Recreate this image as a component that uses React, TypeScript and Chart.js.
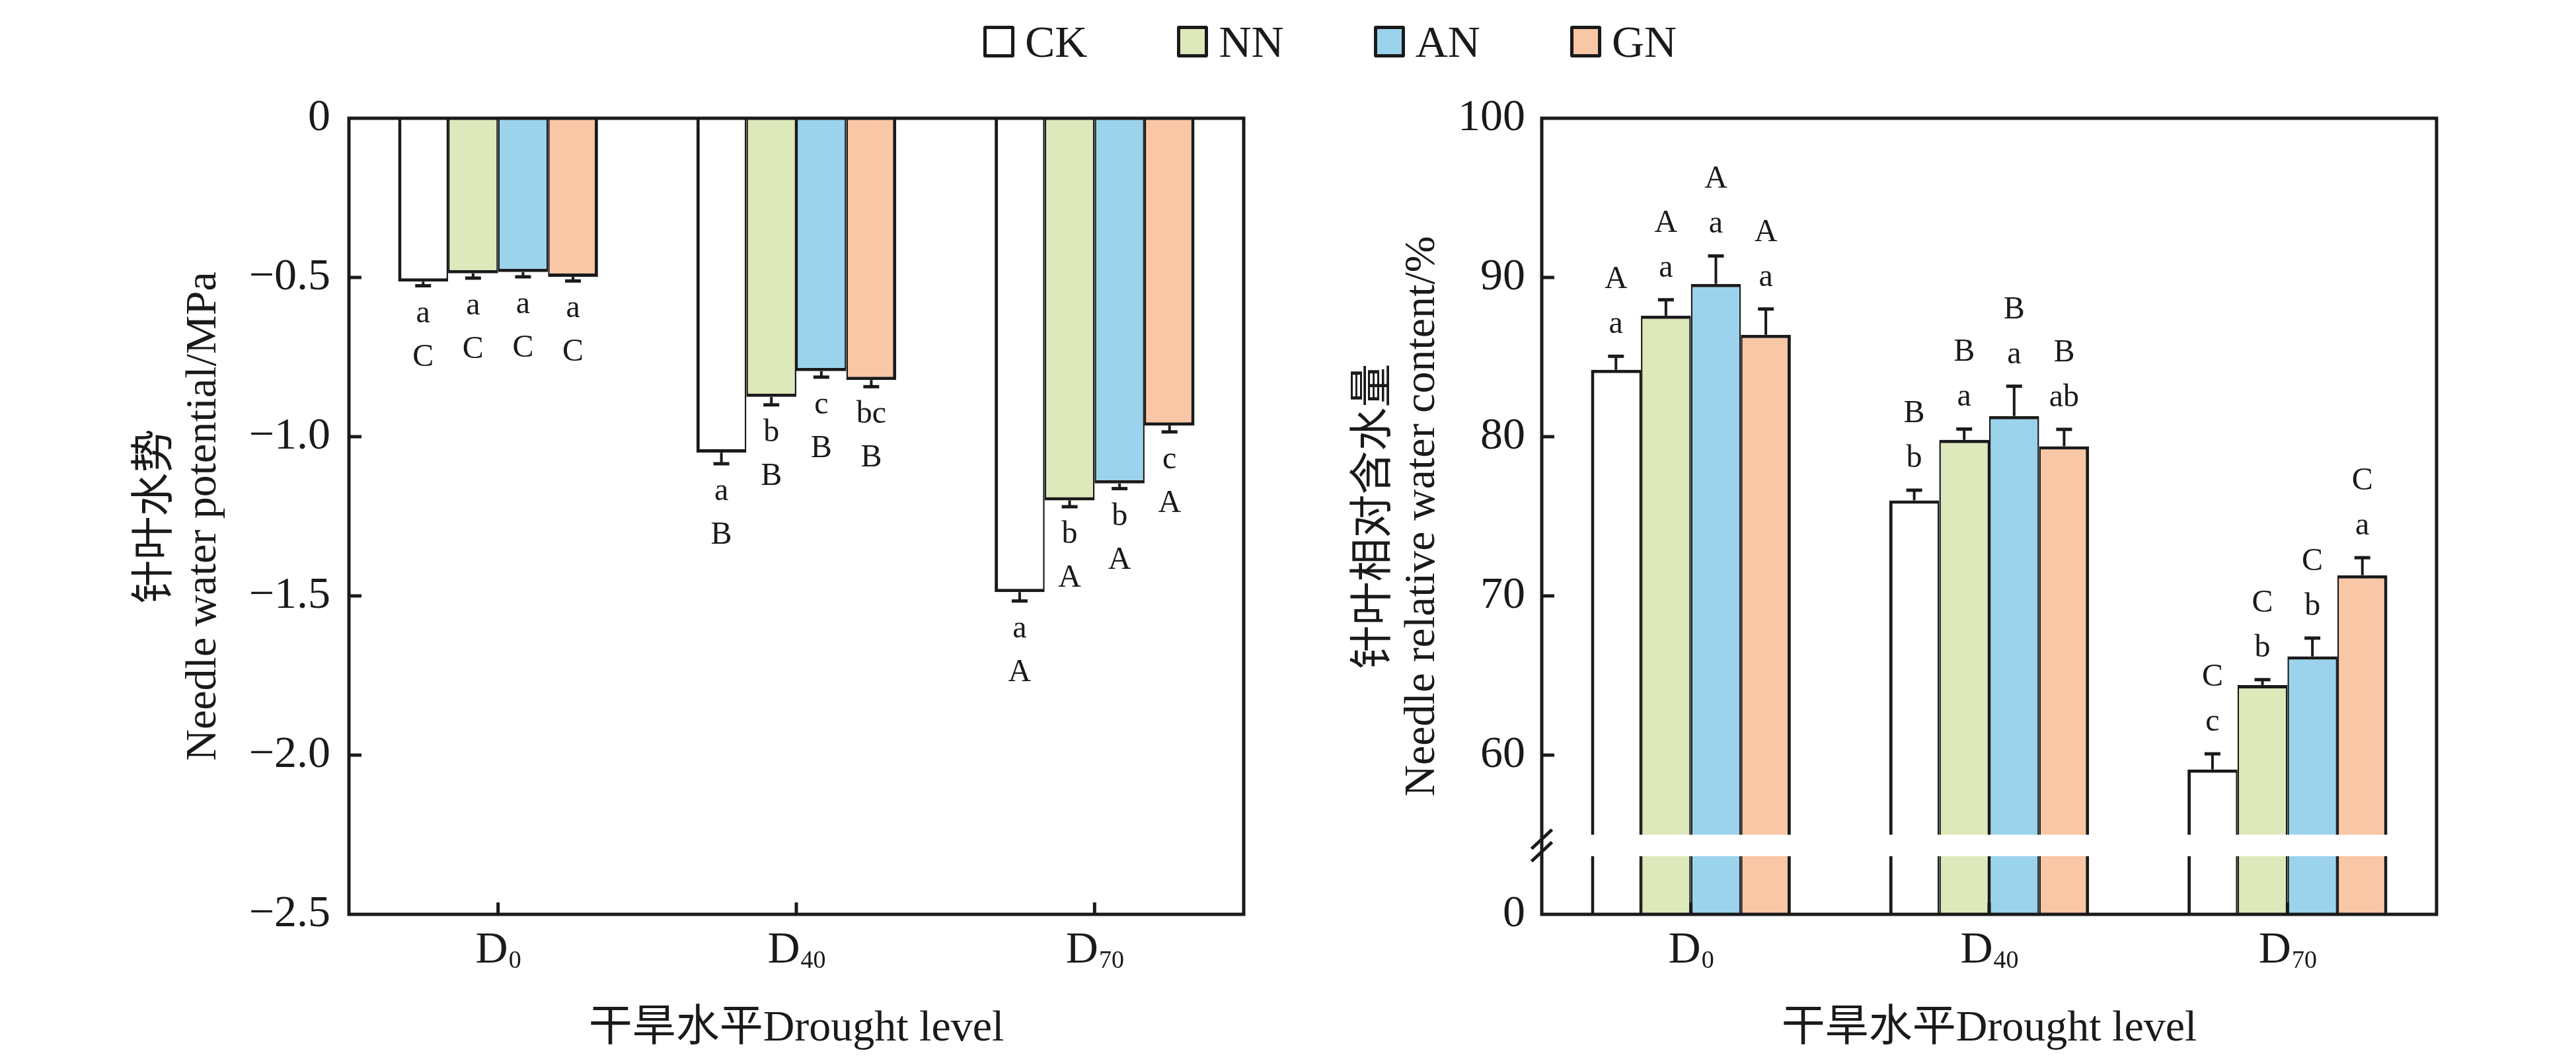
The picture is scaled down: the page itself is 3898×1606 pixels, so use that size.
import React, { useEffect, useRef } from "react";
import { Chart, registerables } from "chart.js";

Chart.register(...registerables);

const FONT = "'Liberation Serif', 'Noto Sans CJK SC', serif";
const INK = "#1a1a1a";

// ---------- data ----------
const categories = ["D0", "D40", "D70"];
const categoryMain = ["D", "D", "D"];
const categorySub = ["0", "40", "70"];
const seriesNames = ["CK", "NN", "AN", "GN"];
const seriesColors = ["#ffffff", "#dde9ba", "#9bd3ec", "#f9c6a6"];

// Needle water potential (MPa)
const potentialCK = [-0.513, -1.05, -1.488];
const potentialNN = [-0.487, -0.875, -1.2];
const potentialAN = [-0.483, -0.794, -1.147];
const potentialGN = [-0.498, -0.822, -0.965];
const potentialErrCK = [0.013, 0.035, 0.028];
const potentialErrNN = [0.015, 0.025, 0.02];
const potentialErrAN = [0.015, 0.019, 0.016];
const potentialErrGN = [0.013, 0.021, 0.02];
const potentialLowerCK = ["a", "a", "a"];
const potentialLowerNN = ["a", "b", "b"];
const potentialLowerAN = ["a", "c", "b"];
const potentialLowerGN = ["a", "bc", "c"];
const potentialUpperCK = ["C", "B", "A"];
const potentialUpperNN = ["C", "B", "A"];
const potentialUpperAN = ["C", "B", "A"];
const potentialUpperGN = ["C", "B", "A"];
const potentialTicks = [0, -0.5, -1, -1.5, -2, -2.5];
const potentialTickLabels = ["0", "\u22120.5", "\u22121.0", "\u22121.5", "\u22122.0", "\u22122.5"];

// Needle relative water content (%)
const contentCK = [84.2, 76.0, 59.1];
const contentNN = [87.6, 79.8, 64.4];
const contentAN = [89.6, 81.3, 66.2];
const contentGN = [86.4, 79.4, 71.3];
const contentErrCK = [0.85, 0.64, 0.98];
const contentErrNN = [1.0, 0.68, 0.34];
const contentErrAN = [1.75, 1.87, 1.15];
const contentErrGN = [1.62, 1.06, 1.1];
const contentLowerCK = ["a", "b", "c"];
const contentLowerNN = ["a", "a", "b"];
const contentLowerAN = ["a", "a", "b"];
const contentLowerGN = ["a", "ab", "a"];
const contentUpperCK = ["A", "B", "C"];
const contentUpperNN = ["A", "B", "C"];
const contentUpperAN = ["A", "B", "C"];
const contentUpperGN = ["A", "B", "C"];
// broken axis: the bottom of the value axis (50) stands for 0
const contentTicks = [100, 90, 80, 70, 60, 50];
const contentTickLabels = ["100", "90", "80", "70", "60", "0"];
const contentAxisBase = 50;
const contentBreak = [53.65, 55.0];

const xTitle = "干旱水平Drought level";
const potentialTitle = ["针叶水势", "Needle water potential/MPa"];
const contentTitle = ["针叶相对含水量", "Needle relative water content/%"];

// ---------- drawing helpers ----------
const overlayPlugin = {
  id: "overlay",
  afterDatasetsDraw(chart: any) {
    const cfg = chart.options.plugins.overlay;
    const { ctx, chartArea: a } = chart;
    const xs = chart.scales.x;
    const ys = chart.scales.y;
    ctx.save();

    // axis break gap through the bars
    if (cfg.breakRange) {
      const yTop = ys.getPixelForValue(cfg.breakRange[1]);
      const yBot = ys.getPixelForValue(cfg.breakRange[0]);
      ctx.fillStyle = "#ffffff";
      ctx.fillRect(a.left + 3, yTop, a.right - a.left - 6, yBot - yTop);
    }

    // frame
    ctx.strokeStyle = INK;
    ctx.lineWidth = 5;
    ctx.strokeRect(a.left, a.top, a.right - a.left, a.bottom - a.top);

    // inward ticks
    ys.ticks.forEach((t: any) => {
      const y = ys.getPixelForValue(t.value);
      if (y > a.top + 4 && y < a.bottom - 4) {
        ctx.beginPath();
        ctx.moveTo(a.left, y);
        ctx.lineTo(a.left + 19, y);
        ctx.stroke();
      }
    });
    categories.forEach((_, i) => {
      const x = xs.getPixelForValue(i);
      ctx.beginPath();
      ctx.moveTo(x, a.bottom);
      ctx.lineTo(x, a.bottom - 18);
      ctx.stroke();
    });

    // break marks on the axis
    if (cfg.breakRange) {
      const c = (ys.getPixelForValue(cfg.breakRange[0]) + ys.getPixelForValue(cfg.breakRange[1])) / 2;
      ctx.lineWidth = 5;
      [-9.5, 9.5].forEach((off) => {
        ctx.beginPath();
        ctx.moveTo(a.left - 15.5, c + off + 14.5);
        ctx.lineTo(a.left + 15.5, c + off - 14.5);
        ctx.stroke();
      });
    }

    // error bars and letters
    chart.data.datasets.forEach((ds: any, di: number) => {
      const meta = chart.getDatasetMeta(di);
      meta.data.forEach((el: any, j: number) => {
        const v = ds.data[j];
        const e = cfg.errors[di][j];
        const dir = v < cfg.base ? -1 : 1;
        const yv = ys.getPixelForValue(v);
        const ye = ys.getPixelForValue(v + dir * e);
        ctx.strokeStyle = INK;
        ctx.lineWidth = 4;
        ctx.beginPath();
        ctx.moveTo(el.x, yv);
        ctx.lineTo(el.x, ye);
        ctx.stroke();
        ctx.lineWidth = 5;
        ctx.beginPath();
        ctx.moveTo(el.x - 12, ye);
        ctx.lineTo(el.x + 12, ye);
        ctx.stroke();

        const sdir = ye < yv ? -1 : 1;
        const gaps = sdir > 0 ? [55, 121] : [35, 103];
        ctx.font = `48px ${FONT}`;
        ctx.fillStyle = INK;
        ctx.textAlign = "center";
        ctx.textBaseline = "alphabetic";
        ctx.fillText(cfg.near[di][j], el.x, ye + sdir * gaps[0]);
        ctx.fillText(cfg.far[di][j], el.x, ye + sdir * gaps[1]);
      });
    });

    // category labels with subscripts
    categories.forEach((_, i) => {
      const x = xs.getPixelForValue(i);
      ctx.fillStyle = INK;
      ctx.textBaseline = "alphabetic";
      ctx.textAlign = "left";
      ctx.font = `68px ${FONT}`;
      const wMain = ctx.measureText(categoryMain[i]).width;
      ctx.font = `38px ${FONT}`;
      const wSub = ctx.measureText(categorySub[i]).width;
      const x0 = x - (wMain + wSub) / 2;
      ctx.font = `68px ${FONT}`;
      ctx.fillText(categoryMain[i], x0, a.bottom + 73);
      ctx.font = `38px ${FONT}`;
      ctx.fillText(categorySub[i], x0 + wMain + 1, a.bottom + 81);
    });

    ctx.restore();
  },
};

function buildConfig(p: any): any {
  const datasets = seriesNames.map((name, i) => ({
    label: name,
    data: p.values[i],
    backgroundColor: seriesColors[i],
    borderColor: INK,
    borderWidth: {
      top: 5,
      bottom: 5,
      left: i === 0 ? 5 : 2.5,
      right: i === seriesNames.length - 1 ? 5 : 2.5,
    },
    borderSkipped: "start",
    base: p.base,
    categoryPercentage: 0.67,
    barPercentage: 1,
  }));
  return {
    type: "bar",
    data: { labels: categories, datasets },
    plugins: [overlayPlugin],
    options: {
      animation: false,
      responsive: false,
      devicePixelRatio: 1,
      layout: { padding: { left: 0, right: p.padRight, top: 179, bottom: 0 } },
      plugins: {
        legend: { display: false },
        tooltip: { enabled: false },
        overlay: {
          errors: p.errors,
          near: p.near,
          far: p.far,
          base: p.base,
          breakRange: p.breakRange,
        },
      },
      scales: {
        x: {
          type: "category",
          grid: { display: false, drawTicks: false },
          border: { display: false },
          ticks: { display: false },
          title: {
            display: true,
            text: xTitle,
            color: INK,
            font: { family: FONT, size: 66, lineHeight: 1.2 },
            padding: { top: 0, bottom: 9 },
          },
          afterFit: (s: any) => {
            s.height = 222;
          },
        },
        y: {
          type: "linear",
          min: p.min,
          max: p.max,
          grid: { display: false, drawTicks: false },
          border: { display: false },
          afterBuildTicks: (s: any) => {
            s.ticks = p.ticks.map((v: number) => ({ value: v }));
          },
          ticks: {
            color: INK,
            font: { family: FONT, size: 68 },
            padding: p.tickPad,
            callback: (v: number) => p.tickLabels[p.ticks.indexOf(v)],
          },
          title: {
            display: true,
            text: p.title,
            color: INK,
            font: { family: FONT, size: 66, lineHeight: 1.1 },
            padding: { top: p.titlePad, bottom: 0 },
          },
          afterFit: (s: any) => {
            s.width = p.axisWidth;
          },
        },
      },
    },
  };
}

function Panel({ make, left, width }: { make: () => any; left: number; width: number }) {
  const ref = useRef<HTMLCanvasElement>(null);
  useEffect(() => {
    const chart = new Chart(ref.current as HTMLCanvasElement, make());
    return () => chart.destroy();
  }, []);
  return (
    <canvas
      ref={ref}
      width={width}
      height={1606}
      style={{ position: "absolute", left, top: 0, width, height: 1606 }}
    />
  );
}

const makePotential = () =>
  buildConfig({
    values: [potentialCK, potentialNN, potentialAN, potentialGN],
    errors: [potentialErrCK, potentialErrNN, potentialErrAN, potentialErrGN],
    near: [potentialLowerCK, potentialLowerNN, potentialLowerAN, potentialLowerGN],
    far: [potentialUpperCK, potentialUpperNN, potentialUpperAN, potentialUpperGN],
    base: 0,
    min: -2.5,
    max: 0,
    ticks: potentialTicks,
    tickLabels: potentialTickLabels,
    title: potentialTitle,
    axisWidth: 528,
    padRight: 68,
    tickPad: 28,
    titlePad: 200,
    breakRange: null,
  });

const makeContent = () =>
  buildConfig({
    values: [contentCK, contentNN, contentAN, contentGN],
    errors: [contentErrCK, contentErrNN, contentErrAN, contentErrGN],
    near: [contentLowerCK, contentLowerNN, contentLowerAN, contentLowerGN],
    far: [contentUpperCK, contentUpperNN, contentUpperAN, contentUpperGN],
    base: contentAxisBase,
    min: contentAxisBase,
    max: 100,
    ticks: contentTicks,
    tickLabels: contentTickLabels,
    title: contentTitle,
    axisWidth: 383,
    padRight: 211,
    tickPad: 25,
    titlePad: 94,
    breakRange: contentBreak,
  });

function Legend() {
  return (
    <div
      style={{
        position: "absolute",
        left: 1488,
        top: 29,
        height: 68,
        display: "flex",
        alignItems: "center",
        gap: 136,
        fontFamily: FONT,
        fontSize: 68,
        lineHeight: "68px",
        color: INK,
      }}
    >
      {seriesNames.map((name, i) => (
        <div key={name} style={{ display: "flex", alignItems: "center" }}>
          <div
            style={{
              width: 47,
              height: 48,
              boxSizing: "border-box",
              border: `5px solid ${INK}`,
              borderRadius: 3,
              background: seriesColors[i],
              marginRight: 16,
            }}
          />
          <span>{name}</span>
        </div>
      ))}
    </div>
  );
}

export default function App() {
  useEffect(() => {
    document.body.style.margin = "0";
  }, []);
  return (
    <div
      style={{
        position: "fixed",
        left: 0,
        top: 0,
        width: 3898,
        height: 1606,
        overflow: "hidden",
        background: "#ffffff",
      }}
    >
      <Panel make={makePotential} left={0} width={1950} />
      <Panel make={makeContent} left={1950} width={1948} />
      <Legend />
    </div>
  );
}
